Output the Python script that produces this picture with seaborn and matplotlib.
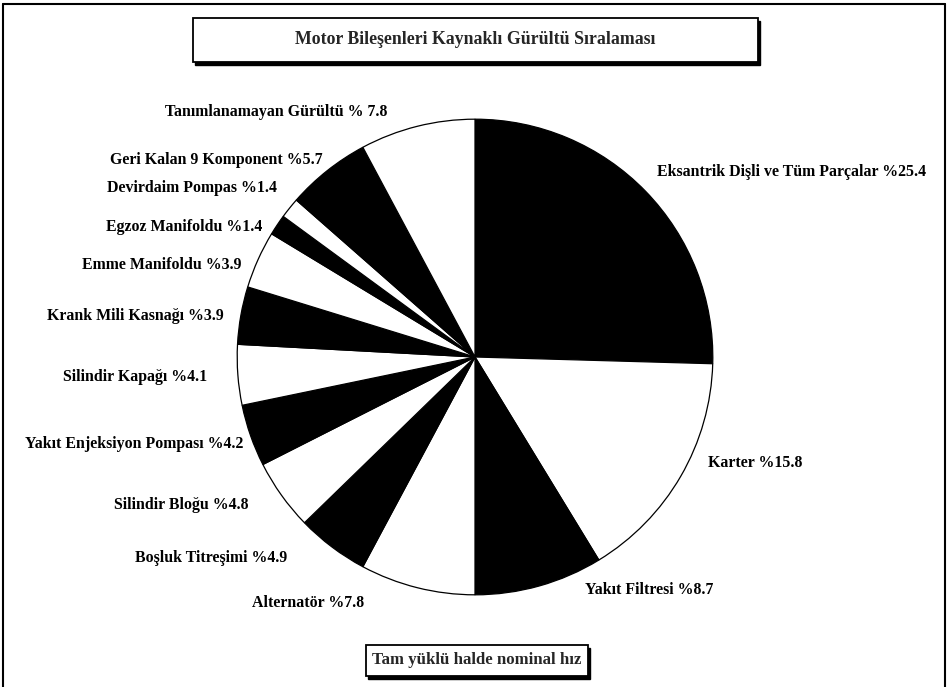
import matplotlib
matplotlib.use("Agg")
import matplotlib.pyplot as plt
import seaborn as sns
from matplotlib.patches import Rectangle
from matplotlib.lines import Line2D

# data (clockwise from 12 o'clock)
names = ["Eksantrik Dişli ve Tüm Parçalar", "Karter", "Yakıt Filtresi", "Alternatör",
         "Boşluk Titreşimi", "Silindir Bloğu", "Yakıt Enjeksiyon Pompası",
         "Silindir Kapağı", "Krank Mili Kasnağı", "Emme Manifoldu",
         "Egzoz Manifoldu", "Devirdaim Pompas", "Geri Kalan 9 Komponent",
         "Tanımlanamayan Gürültü"]
shares = [25.4, 15.8, 8.7, 7.8, 4.9, 4.8, 4.2, 4.1, 3.9, 3.9, 1.4, 1.4, 5.7, 7.8]
title = "Motor Bileşenleri Kaynaklı Gürültü Sıralaması"
footer = "Tam yüklü halde nominal hız"

# label layout in pixels: (x, y, horizontal alignment)
label_pos = [(657, 172, "left"), (708, 463, "left"), (585, 590, "left"),
             (364, 603, "right"), (287, 558, "right"), (248, 505, "right"),
             (243, 444, "right"), (207, 377, "right"), (224, 316, "right"),
             (241, 265, "right"), (262, 227, "right"), (277, 188, "right"),
             (323, 160, "right"), (276, 112, "center")]

sns.set_theme(style="white")
plt.rcParams['font.family'] = ['Liberation Serif', 'DejaVu Serif']
plt.rcParams['font.weight'] = 'bold'

W, H = 948, 687
fig = plt.figure(figsize=(W / 100, H / 100), dpi=100)
fig.patch.set_facecolor("white")


def fx(x):
    return x / W


def fy(y):
    return 1 - y / H


# pie
cx, cy, r = 475, 357, 239
ax = fig.add_axes([fx(cx - r), fy(cy + r), 2 * r / W, 2 * r / H])
colors = ["black" if i % 2 == 0 else "white" for i in range(len(shares))]
ax.pie(shares, colors=colors, startangle=90, counterclock=False,
       wedgeprops=dict(edgecolor="black", linewidth=0.9))
ax.set_xlim(-1.005, 1.005)
ax.set_ylim(-1.005, 1.005)
ax.set_axis_off()

# labels
for name, val, (x, y, ha) in zip(names, shares, label_pos):
    if name.startswith("Tanımlanamayan"):
        txt = f"{name} % {val}"
    else:
        txt = f"{name} %{val}"
    fig.text(fx(x), fy(y), txt, ha=ha, va="center", fontsize=11.4,
             fontweight="bold", color="black")


def boxed(x0, y0, x1, y1, text, size):
    # shadow then box
    fig.add_artist(Rectangle((fx(x0 + 2), fy(y1 + 3)), (x1 - x0) / W, (y1 - y0) / H,
                             transform=fig.transFigure, facecolor="black",
                             edgecolor="black", lw=1))
    fig.add_artist(Rectangle((fx(x0), fy(y1)), (x1 - x0) / W, (y1 - y0) / H,
                             transform=fig.transFigure, facecolor="white",
                             edgecolor="black", lw=1.3))
    fig.text(fx((x0 + x1) / 2), fy((y0 + y1) / 2), text, ha="center", va="center",
             fontsize=size, fontweight="bold")


boxed(193, 18, 758, 62, title, 12.8)
boxed(366, 645, 588, 676, footer, 12.1)

# outer frame
for xs, ys in [((3, 3), (4, 687)), ((3, 945), (4, 4)), ((945, 945), (4, 687))]:
    fig.add_artist(Line2D([fx(xs[0]), fx(xs[1])], [fy(ys[0]), fy(ys[1])],
                          transform=fig.transFigure, color="black", lw=1.5))

fig.savefig("out.png", dpi=100)
